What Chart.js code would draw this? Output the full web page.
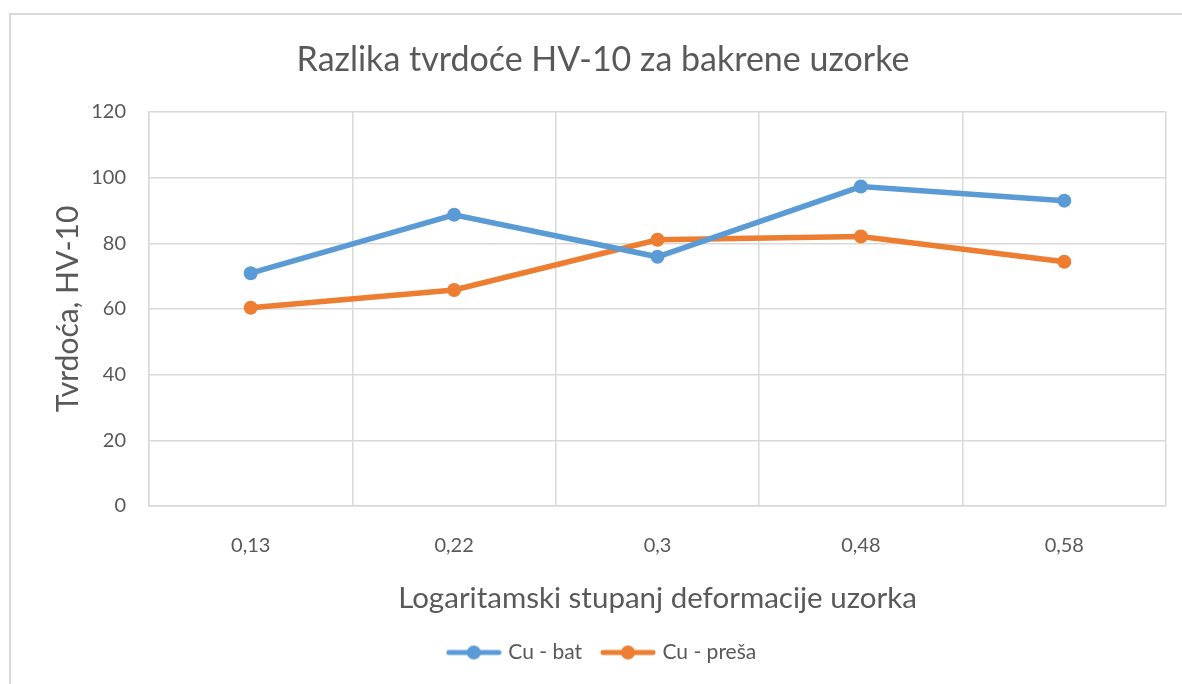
<!DOCTYPE html>
<html>
<head>
<meta charset="utf-8">
<script src="https://cdn.jsdelivr.net/npm/chart.js@4/dist/chart.umd.min.js"></script>
<style>
  html, body { margin: 0; padding: 0; background: #fff; }
  #frame {
    position: absolute; left: 9px; top: 13px; width: 1200px; height: 700px;
    border-left: 2px solid #d9d9d9; border-top: 2px solid #d9d9d9;
  }
  #wrap { position: absolute; left: 0; top: 0; width: 1182px; height: 684px; }
</style>
</head>
<body>
<div id="frame"></div>
<div id="wrap"><canvas id="chart" width="1182" height="684"></canvas></div>
<script>
// chart data
const categories = ['0,13', '0,22', '0,3', '0,48', '0,58'];
const cuBat = [70.9, 88.7, 75.9, 97.3, 93.0];
const cuPresa = [60.4, 65.8, 81.1, 82.1, 74.4];
const yTicks = [0, 20, 40, 60, 80, 100, 120];

const textColor = '#595959';
const gridColor = '#d9d9d9';
const fontFamily = 'Lato, "Open Sans", sans-serif';

// legend marker: short line with a dot in the middle
function legendMarker(color) {
    const c = document.createElement('canvas');
    c.width = 56;
    c.height = 16;
    const ctx = c.getContext('2d');
    ctx.strokeStyle = color;
    ctx.lineWidth = 5;
    ctx.lineCap = 'round';
    ctx.beginPath();
    ctx.moveTo(3, 8);
    ctx.lineTo(53, 8);
    ctx.stroke();
    ctx.fillStyle = color;
    ctx.beginPath();
    ctx.arc(28, 8, 7, 0, Math.PI * 2);
    ctx.fill();
    return c;
}

const series = [
    { label: 'Cu - bat', data: cuBat, color: '#5b9bd5' },
    { label: 'Cu - preša', data: cuPresa, color: '#ed7d31' }
];

new Chart('chart', {
    type: 'line',
    data: {
        labels: categories,
        datasets: series.map(s => ({
            label: s.label,
            data: s.data,
            borderColor: s.color,
            backgroundColor: s.color,
            borderWidth: 5.5,
            pointRadius: 7,
            pointHoverRadius: 7,
            pointBorderWidth: 0,
            pointStyle: 'circle',
            tension: 0,
            legendImage: legendMarker(s.color)
        }))
    },
    options: {
        responsive: false,
        animation: false,
        layout: { padding: { left: 40, right: 16, top: 0, bottom: 11 } },
        plugins: {
            tooltip: { enabled: false },
            title: {
                display: true,
                text: 'Razlika tvrdoće HV-10 za bakrene uzorke',
                color: textColor,
                font: { family: fontFamily, size: 34, weight: 'normal' },
                padding: { top: 39.6, bottom: 31.6 }
            },
            legend: {
                position: 'bottom',
                labels: {
                    color: textColor,
                    font: { family: fontFamily, size: 21 },
                    usePointStyle: true,
                    pointStyleWidth: 48,
                    padding: 22,
                    generateLabels(chart) {
                        return chart.data.datasets.map((ds, i) => ({
                            text: ds.label,
                            pointStyle: ds.legendImage,
                            fillStyle: ds.borderColor,
                            strokeStyle: ds.borderColor,
                            lineWidth: 0,
                            fontColor: textColor,
                            datasetIndex: i,
                            hidden: false
                        }));
                    }
                }
            }
        },
        scales: {
            x: {
                offset: true,
                grid: { offset: true, color: gridColor, lineWidth: 1.5, drawTicks: false },
                border: { color: gridColor, width: 1.5 },
                ticks: { color: textColor, font: { family: fontFamily, size: 20 }, padding: 27.5 },
                title: {
                    display: true,
                    text: 'Logaritamski stupanj deformacije uzorka',
                    color: textColor,
                    font: { family: fontFamily, size: 29.5 },
                    padding: { top: 20, bottom: 3.8 }
                },
                afterFit(scale) {
                    scale.height = 114;
                }
            },
            y: {
                min: 0,
                max: 120,
                afterBuildTicks(scale) {
                    scale.ticks = yTicks.map(v => ({ value: v }));
                },
                grid: { color: gridColor, lineWidth: 1.5, drawTicks: false },
                border: { color: gridColor, width: 1.5 },
                ticks: { color: textColor, font: { family: fontFamily, size: 20 }, padding: 23 },
                title: {
                    display: true,
                    text: 'Tvrdoća, HV-10',
                    color: textColor,
                    font: { family: fontFamily, size: 30 },
                    padding: { top: 10, bottom: 0 }
                },
                afterFit(scale) {
                    scale.width = 109;
                }
            }
        }
    }
});
</script>
</body>
</html>
